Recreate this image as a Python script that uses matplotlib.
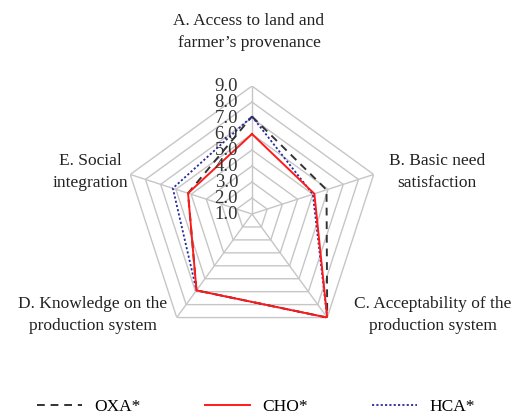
import numpy as np
import matplotlib
matplotlib.use("Agg")
import matplotlib.pyplot as plt

plt.rcParams['font.family'] = ['Liberation Serif', 'DejaVu Serif']

# Data
categories = ["A. Access to land and\nfarmer\u2019s provenance",
              "B. Basic need\nsatisfaction",
              "C. Acceptability of the\nproduction system",
              "D. Knowledge on the\nproduction system",
              "E. Social\nintegration"]
oxa = [7.1, 5.9, 9.0, 6.9, 5.2]
cho = [6.0, 5.1, 9.0, 6.9, 5.2]
hca = [7.1, 5.0, 9.0, 6.9, 6.2]
levels = [1, 2, 3, 4, 5, 6, 7, 8, 9]

n = len(categories)
angles = np.linspace(0, 2 * np.pi, n, endpoint=False)
closed = np.append(angles, angles[0])

fig = plt.figure(figsize=(5.14, 4.18), dpi=100)
ax = fig.add_axes([0.2412, 0.1818, 0.498, 0.6124], projection='polar')
ax.set_theta_zero_location('N')
ax.set_theta_direction(-1)
ax.set_ylim(1, 9)
ax.grid(False)
ax.spines['polar'].set_visible(False)
ax.set_xticks([])
ax.set_yticks([])

grid_col = '#c6c6c6'
# pentagon rings
for lv in levels[1:]:
    ax.plot(closed, [lv] * (n + 1), color=grid_col, lw=1.0, zorder=1)
# spokes
for a in angles:
    ax.plot([a, a], [1, 9], color=grid_col, lw=1.0, zorder=1)

def close(v):
    return list(v) + [v[0]]

ax.plot(closed, close(oxa), color='#333333', lw=1.4, ls=(0, (4, 3)), zorder=3, label='OXA*')
ax.plot(closed, close(hca), color='#2a2aa0', lw=1.3, ls=(0, (1.2, 1.2)), zorder=4, label='HCA*')
ax.plot(closed, close(cho), color='#ff1a1a', lw=1.4, zorder=5, label='CHO*')

# level labels along the top axis
for lv in levels:
    ax.annotate(f"{lv:.1f}", xy=(0, lv), xytext=(-10, 0), textcoords='offset points',
                ha='right', va='center', fontsize=13.5, color='#333333', zorder=6)

# category labels (figure pixel positions)
label_pos = [(249, 32), (437, 172), (433, 315), (93, 315), (90, 172)]
for text, (px, py) in zip(categories, label_pos):
    fig.text(px / 514, 1 - py / 418, text, ha='center', va='center',
             fontsize=12.5, color='#222222', linespacing=1.45)

h, l = ax.get_legend_handles_labels()
order = [0, 2, 1]
fig.legend([h[i] for i in order], [l[i] for i in order], loc='center',
           bbox_to_anchor=(256 / 514, 1 - 407 / 418), ncol=3, frameon=False,
           fontsize=12.5, handlelength=2.6, columnspacing=3.7, handletextpad=0.7)

fig.savefig('out.png', dpi=100)
